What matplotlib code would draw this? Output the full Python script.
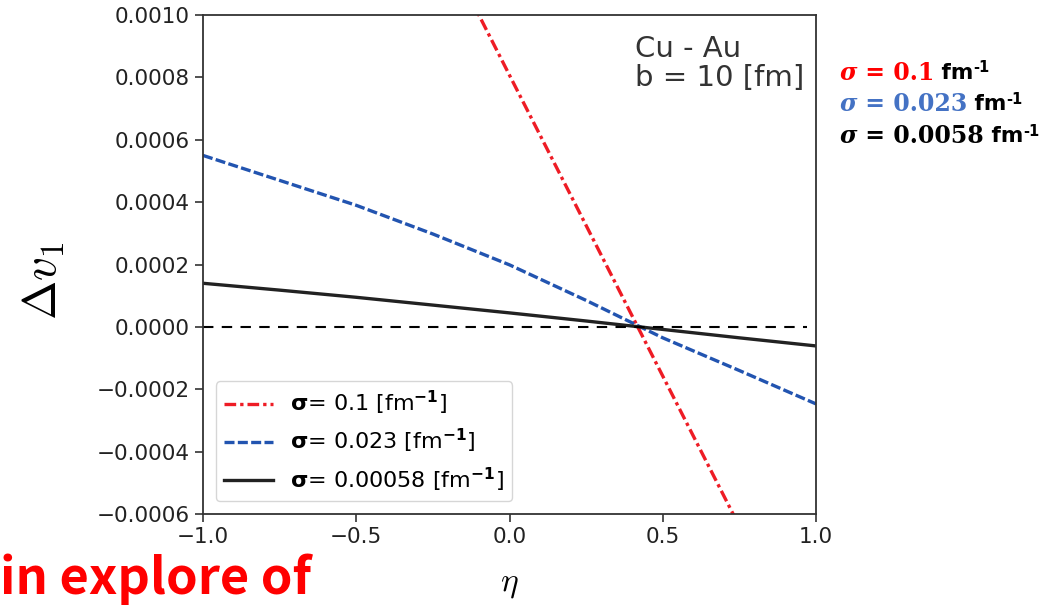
import matplotlib.pyplot as plt
import numpy as np

eta = [-1.0, -0.75, -0.5, -0.25, 0.0, 0.25, 0.5, 0.75, 1.0]

# Delta v1 for the three sigma values
dv1_s01 = [0.00274, 0.00226, 0.00177, 0.00129, 0.000807, 0.000325, -0.000158, -0.00064, -0.00112]
dv1_s0023 = [0.00055, 0.00047, 0.00039, 0.000298, 0.000199, 0.000085, -0.000035, -0.00014, -0.000247]
dv1_s00058 = [0.00014, 0.000118, 0.000095, 0.00007, 0.000045, 0.000019, -0.000008, -0.000035, -0.000061]

labels = [r'$\mathbf{\sigma}$= 0.1 [fm$^{\mathbf{-1}}$]',
          r'$\mathbf{\sigma}$= 0.023 [fm$^{\mathbf{-1}}$]',
          r'$\mathbf{\sigma}$= 0.00058 [fm$^{\mathbf{-1}}$]']

plt.rcParams['mathtext.fontset'] = 'cm'

fig = plt.figure(figsize=(10.64, 6.05), dpi=100)
ax = fig.add_axes([0.1908, 0.1504, 0.5762, 0.8246])

l1, = ax.plot(eta, dv1_s01, color='#ee1c25', lw=2.4, ls=(0, (3.5, 1.2, 1, 1.2)))
l2, = ax.plot(eta, dv1_s0023, color='#2254b0', lw=2.4, ls=(0, (3, 1)))
l3, = ax.plot(eta, dv1_s00058, color='#222222', lw=2.4)
ax.axhline(0, color='black', lw=1.5, ls=(0, (5, 4)), xmin=0, xmax=0.985)

ax.set_xlim(-1, 1)
ax.set_ylim(-0.0006, 0.001)
ax.set_xticks([-1.0, -0.5, 0.0, 0.5, 1.0])
ax.set_yticks(np.arange(-0.0006, 0.00101, 0.0002))
ax.yaxis.set_major_formatter(plt.FuncFormatter(lambda v, p: f'{v:.4f}'.replace('-', '\u2212')))
ax.tick_params(labelsize=15.5, length=6, width=1.2, color='#333333', labelcolor='#222222')
for s in ax.spines.values():
    s.set_linewidth(1.3)
    s.set_color('#333333')

leg = ax.legend([l1, l2, l3], labels, loc='lower left', fontsize=16,
                handlelength=2.2, borderpad=0.35, labelspacing=0.45,
                bbox_to_anchor=(0.003, 0.003))
for t in leg.get_texts():
    t.set_math_fontfamily('dejavusans')

ax.set_xlabel(r'$\eta$', fontsize=24, labelpad=14)
ax.set_ylabel(r'$\Delta v_1$', fontsize=34)
ax.yaxis.set_label_coords(-0.222, 0.467)

ax.text(0.705, 0.96, 'Cu - Au\nb = 10 [fm]', transform=ax.transAxes,
        fontsize=21, va='top', ha='left', color='#333333', linespacing=1.05)

# sigma values listed beside the plot
rows = [('0.1', '#ff0000', 0.880), ('0.023', '#4472c4', 0.828), ('0.0058', 'black', 0.775)]
for val, col, y in rows:
    t = fig.text(0.789, y, '\u03c3', fontsize=17, color=col, family='DejaVu Serif',
                 style='italic', weight='bold', va='center')
    t = ax.annotate(' = ' + val, xy=(1, 0.5), xycoords=t, va='center', fontsize=17,
                    color=col, family='DejaVu Serif', weight='bold')
    t2 = ax.annotate(' fm', xy=(1, 0.5), xycoords=t, va='center', fontsize=15.5,
                     color='black', family='DejaVu Sans', weight='bold')
    ax.annotate('-1', xy=(1, 0.75), xycoords=t2, va='center', fontsize=10.5,
                color='black', family='DejaVu Sans', weight='bold')

fig.text(0.0, 0.0, 'in explore of', fontsize=36.5, color='#ff0000',
         family=['Liberation Sans Narrow', 'Noto Sans CJK JP'], weight='bold',
         ha='left', va='bottom')

fig.savefig('out.png', dpi=100)
